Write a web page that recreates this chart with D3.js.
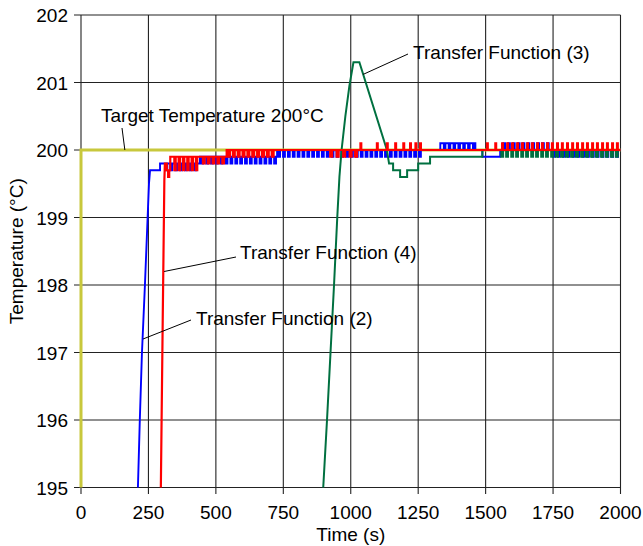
<!DOCTYPE html>
<html><head><meta charset="utf-8">
<script src="https://cdn.jsdelivr.net/npm/d3@7"></script>
<style>
body{margin:0;background:#fff}
svg{display:block}
text{font-family:"Liberation Sans",Arial,Helvetica,sans-serif;fill:#000}
</style></head>
<body>
<svg id="chart" width="643" height="546"></svg>
<script>
// ---------- data ----------
const xTicks = [0, 250, 500, 750, 1000, 1250, 1500, 1750, 2000];
const yTicks = [195, 196, 197, 198, 199, 200, 201, 202];
const targetTemp = 200;
const xTitle = "Time (s)";
const yTitle = "Temperature (°C)";
const endTime = 2000;

// transients: [time s, temperature °C]
const blueRise = [[211,195],[218,196],[226,197],[237,198],[247,199],[252,199.5],[256,199.7],[293,199.7]];
const redRise = [[296,195],[303,197.5],[309,199.55],[311,199.8]];
const greenRise = [[898,195],[912,196],[925,197],[938,198],[950,199],[958,199.6],[966,200],[980,200.5],[995,200.95],[1010,201.3],[1032,201.3],[1134,200],[1140,199.85],[1142,199.8]];

// controller steps: level in tenths of a degree from 200 °C; pulses at listed times
const blueSteps = [
  {from:293, base:-2, pulse:-3, w:7, at:[313,331,349,367,385,403,421]},
  {from:441, base:-1, pulse:-2, w:7, at:[446,464,482,500,518,536,554,572,590,608,626,644,662,680,698,716]},
  {from:727, base:0, pulse:-1, w:7, at:[731,749,767,785,803,821,839,857,875,893,911,929,947,965,983,1001,1019,1037,1055,1073,1091,1109,1127,1145,1163,1181,1199,1217,1235,1253]},
  {from:1276, base:0, pulse:0, w:0, at:[]},
  {from:1332, base:1, pulse:0, w:6, at:[1345,1363,1381,1399,1417,1435,1453]},
  {from:1462, base:0, pulse:0, w:0, at:[]},
  {from:1488, base:-1, pulse:-1, w:0, at:[]},
  {from:1554, base:0, pulse:1, w:7, at:[1565,1583,1601,1619,1637,1655,1673,1691,1709,1727]},
  {from:1740, base:0, pulse:-1, w:7, at:[1750,1768,1786,1804,1822,1840,1858,1876,1894,1912,1930,1948,1966,1984]}
];
const redSteps = [
  {from:311, base:-2, pulse:-2, w:0, at:[]},
  {from:318, base:-3, pulse:-3, w:0, at:[]},
  {from:323, base:-4, pulse:-4, w:0, at:[]},
  {from:327, base:-3, pulse:-3, w:0, at:[]},
  {from:331, base:-1, pulse:-3, w:5, at:[346,362,378,394,410,426]},
  {from:441, base:-1, pulse:-2, w:6, at:[452,470,488,506,524]},
  {from:540, base:0, pulse:-1, w:7, at:[545,563,581,599,617,635,653,671,689,707]},
  {from:720, base:0, pulse:-1, w:7, at:[924,948,972,996,1016]},
  {from:1030, base:0, pulse:1, w:3, at:[1036,1097,1134,1165,1195,1220,1240,1257]},
  {from:1280, base:0, pulse:1, w:3, at:[1505,1536,1561,1580,1598,1617,1635,1654,1672,1691,1709,1728,1746,1765,1783,1802,1821,1839,1858,1876,1895,1913,1932,1950,1969,1987]}
];
const greenSteps = [
  {from:1142, base:-2, pulse:-2, w:0, at:[]},
  {from:1157, base:-3, pulse:-3, w:0, at:[]},
  {from:1183, base:-4, pulse:-4, w:0, at:[]},
  {from:1209, base:-3, pulse:-3, w:0, at:[]},
  {from:1250, base:-2, pulse:-2, w:0, at:[]},
  {from:1294, base:-1, pulse:-1, w:0, at:[]},
  {from:1488, base:0, pulse:0, w:0, at:[]},
  {from:1554, base:0, pulse:-1, w:7, at:[1558,1576,1595,1613,1632,1650,1669,1687,1706,1724,1743,1761,1780,1798,1817,1835,1854,1872,1891,1909,1928,1946,1965,1983]}
];

const seriesNames = ["Transfer Function (2)", "Transfer Function (3)", "Transfer Function (4)"];
const targetLabel = "Target Temperature 200°C";

// ---------- layout ----------
const svg = d3.select("#chart");
const x = d3.scaleLinear().domain([0, 2000]).range([81, 620.5]);
const y = d3.scaleLinear().domain([195, 202]).range([487.5, 15]);
const FS = 19;

function build(rise, steps, end) {
  const pts = rise.map(d => d.slice());
  let cur = pts[pts.length - 1][1];
  for (const s of steps) {
    const b = targetTemp + s.base / 10, p = targetTemp + s.pulse / 10;
    pts.push([s.from, cur], [s.from, b]);
    cur = b;
    for (const t of s.at) {
      pts.push([t, b], [t, p], [t + s.w, p], [t + s.w, b]);
    }
  }
  pts.push([end, cur]);
  return pts;
}

// grid
const g = svg.append("g");
g.selectAll("line.v").data(xTicks).join("line")
  .attr("x1", d => x(d)).attr("x2", d => x(d))
  .attr("y1", y(202)).attr("y2", y(195) + 6.5)
  .attr("stroke", "#222").attr("stroke-width", 1.1);
g.selectAll("line.h").data(yTicks).join("line")
  .attr("x1", x(0) - 7).attr("x2", x(2000))
  .attr("y1", d => y(d)).attr("y2", d => y(d))
  .attr("stroke", "#222").attr("stroke-width", 1.1);

// tick labels
g.selectAll("text.xt").data(xTicks).join("text")
  .attr("x", d => x(d)).attr("y", 519)
  .attr("text-anchor", "middle").attr("font-size", FS).text(d => d);
g.selectAll("text.yt").data(yTicks).join("text")
  .attr("x", 68).attr("y", d => y(d) + 7)
  .attr("text-anchor", "end").attr("font-size", FS).text(d => d);

svg.append("text").attr("x", x(1000)).attr("y", 541)
  .attr("text-anchor", "middle").attr("font-size", FS).text(xTitle);
svg.append("text").attr("transform", `translate(23,${(y(195)+y(202))/2}) rotate(-90)`)
  .attr("text-anchor", "middle").attr("font-size", FS).text(yTitle);

// target lines
const tcol = "#c8c83c";
svg.append("path")
  .attr("d", d3.line()([[x(0), y(195)], [x(0), y(targetTemp)], [x(2000), y(targetTemp)]]))
  .attr("fill", "none").attr("stroke", tcol).attr("stroke-width", 3);

// series
const line = d3.line().x(d => x(d[0])).y(d => y(d[1]));
const blue = build(blueRise, blueSteps, endTime);
const red = build(redRise, redSteps, endTime);
const green = build(greenRise, greenSteps, endTime);
svg.append("path").attr("d", line(blue)).attr("fill", "none").attr("stroke", "#0000ff").attr("stroke-width", 1.9);
svg.append("path").attr("d", line(green)).attr("fill", "none").attr("stroke", "#007040").attr("stroke-width", 2);
svg.append("path").attr("d", line(red)).attr("fill", "none").attr("stroke", "#ff0000").attr("stroke-width", 2.2);

// annotations
const ann = [
  {text: targetLabel, tx: 101, ty: 122, lx: 122, ly: 128, ax: 81, av: 200, dx: 22},
  {text: seriesNames[1], tx: 413, ty: 59, lx: 408, ly: 54, ax: 1046, av: 201.12, dx: 0},
  {text: seriesNames[2], tx: 240, ty: 259, lx: 236, ly: 257, ax: 308, av: 198.2, dx: 0},
  {text: seriesNames[0], tx: 196, ty: 325, lx: 191, ly: 320, ax: 230, av: 197.2, dx: 0}
];
ann.forEach(a => {
  svg.append("line").attr("x1", a.lx).attr("y1", a.ly)
    .attr("x2", x(a.ax) + a.dx).attr("y2", y(a.av))
    .attr("stroke", "#000").attr("stroke-width", 1);
  svg.append("text").attr("x", a.tx).attr("y", a.ty).attr("font-size", FS).text(a.text);
});
</script>
</body></html>
